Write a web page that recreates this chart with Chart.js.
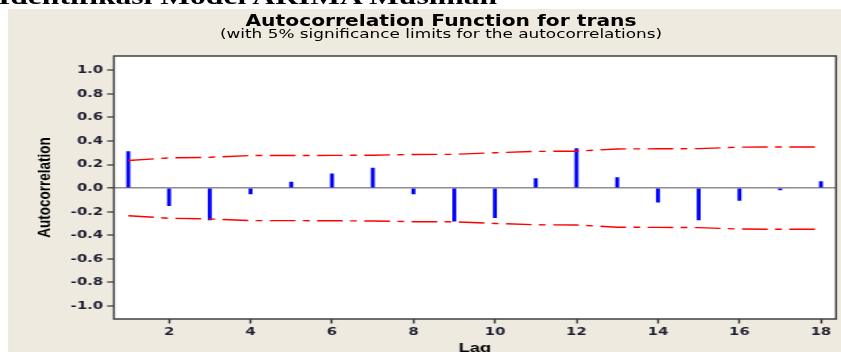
<!DOCTYPE html>
<html>
<head>
<meta charset="utf-8">
<script src="https://cdn.jsdelivr.net/npm/chart.js@4.4.1/dist/chart.umd.min.js"></script>
<style>
html,body{margin:0;padding:0;background:#fff;overflow:hidden;width:841px;height:352px;}
#wrap{position:absolute;left:0;top:0;width:623px;height:372px;transform:scaleX(1.34992);transform-origin:0 0;}
#panel{position:absolute;left:5.93px;top:9px;width:620px;height:400px;background:#eeeae0;}
#heading{position:absolute;left:-1.5px;top:-15.9px;font:bold 23.4px/24px "Liberation Serif",serif;color:#000;white-space:nowrap;}
.t{position:absolute;left:0;width:653.4px;text-align:center;white-space:nowrap;color:#000;}
#title{top:13.6px;font:bold 15px/15px "DejaVu Sans",sans-serif;}
#subtitle{top:28.4px;font:12.5px/12.5px "DejaVu Sans",sans-serif;}
canvas{position:absolute;left:0;top:0;}
</style>
</head>
<body>
<div id="wrap">
  <div id="panel"></div>
  <div id="heading">Identifikasi Model ARIMA Musiman</div>
  <div class="t" id="title">Autocorrelation Function for trans</div>
  <div class="t" id="subtitle">(with 5% significance limits for the autocorrelations)</div>
  <canvas id="c" width="623" height="372"></canvas>
</div>
<script>
const lags = [1, 2, 3, 4, 5, 6, 7, 8, 9, 10, 11, 12, 13, 14, 15, 16, 17, 18];
const acfValues = [0.31, -0.15, -0.27, -0.05, 0.05, 0.12, 0.17, -0.05, -0.28, -0.25, 0.08, 0.335, 0.09, -0.12, -0.27, -0.105, -0.015, 0.055];
const upperLimits = [0.234, 0.256, 0.261, 0.276, 0.276, 0.277, 0.279, 0.285, 0.286, 0.300, 0.311, 0.313, 0.332, 0.333, 0.335, 0.347, 0.349, 0.349];
const lowerLimits = [-0.234, -0.256, -0.261, -0.276, -0.276, -0.277, -0.279, -0.285, -0.286, -0.300, -0.311, -0.313, -0.332, -0.333, -0.335, -0.347, -0.349, -0.349];
const xTitle = 'Lag';
const yTitle = 'Autocorrelation';

const toPoints = (ys) => lags.map((x, i) => ({ x: x, y: ys[i] }));

const tickFont = { family: 'DejaVu Sans', weight: 'bold', size: 11 };
const axisTitleFont = { family: 'Liberation Sans', weight: 'bold', size: 13.5 };
const tickColor = '#1e1e32';

const plotFrame = {
  id: 'plotFrame',
  beforeDraw(chart) {
    const a = chart.chartArea, ctx = chart.ctx;
    ctx.save();
    ctx.fillStyle = '#ffffff';
    ctx.fillRect(a.left, a.top, a.right - a.left, a.bottom - a.top);
    ctx.restore();
  },
  afterDraw(chart) {
    const a = chart.chartArea, ctx = chart.ctx;
    ctx.save();
    ctx.strokeStyle = '#404040';
    ctx.lineWidth = 1.5;
    ctx.strokeRect(a.left, a.top, a.right - a.left, a.bottom - a.top);
    ctx.restore();
  }
};

const limitStyle = {
  type: 'line',
  borderColor: '#ff0000',
  borderWidth: 1.4,
  borderDash: [19, 5.5, 5, 5.5],
  pointRadius: 0,
  fill: false,
  tension: 0
};

new Chart(document.getElementById('c'), {
  type: 'bar',
  data: {
    datasets: [
      Object.assign({ label: 'upper', data: toPoints(upperLimits) }, limitStyle),
      Object.assign({ label: 'lower', data: toPoints(lowerLimits) }, limitStyle),
      {
        type: 'bar',
        label: 'ACF',
        data: toPoints(acfValues),
        backgroundColor: '#0000ff',
        borderWidth: 0,
        barThickness: 2.2
      }
    ]
  },
  options: {
    responsive: false,
    animation: false,
    devicePixelRatio: 1,
    layout: { padding: { left: 0, right: 3.7, top: 56, bottom: 0 } },
    plugins: { legend: { display: false }, tooltip: { enabled: false }, title: { display: false } },
    scales: {
      x: {
        type: 'linear',
        position: 'bottom',
        min: 0.648,
        max: 18.371,
        offset: false,
        afterFit(s) { s.height = 53; },
        grid: { display: true, drawOnChartArea: false, drawTicks: true, tickLength: 4.5, tickColor: '#333333', tickWidth: 1.4, offset: false },
        border: { display: false },
        ticks: {
          stepSize: 2, includeBounds: false, autoSkip: false, maxRotation: 0, minRotation: 0,
          padding: 2.4, color: tickColor, font: tickFont,
          callback: (v) => String(Math.round(v))
        },
        title: { display: true, text: xTitle, color: '#000', font: axisTitleFont, padding: { top: 0, bottom: 15.2 } }
      },
      y: {
        type: 'linear',
        position: 'left',
        min: -1.11,
        max: 1.12,
        afterFit(s) { s.width = 84.4; },
        grid: {
          display: true,
          drawOnChartArea: true,
          drawTicks: true,
          color: (c) => (c.tick && Math.abs(c.tick.value) < 1e-9) ? '#8e8e8e' : 'rgba(0,0,0,0)',
          lineWidth: (c) => (c.tick && Math.abs(c.tick.value) < 1e-9) ? 1.6 : 0,
          tickLength: 5, tickColor: '#333333', tickWidth: 1.2
        },
        border: { display: false },
        ticks: {
          stepSize: 0.2, includeBounds: false, padding: 3, color: tickColor, font: tickFont,
          callback: (v) => (Math.abs(v) < 1e-9 ? 0 : v).toFixed(1)
        },
        title: { display: true, text: yTitle, color: '#000', font: axisTitleFont, padding: { top: 25, bottom: 0 } }
      }
    }
  },
  plugins: [plotFrame]
});
</script>
</body>
</html>
